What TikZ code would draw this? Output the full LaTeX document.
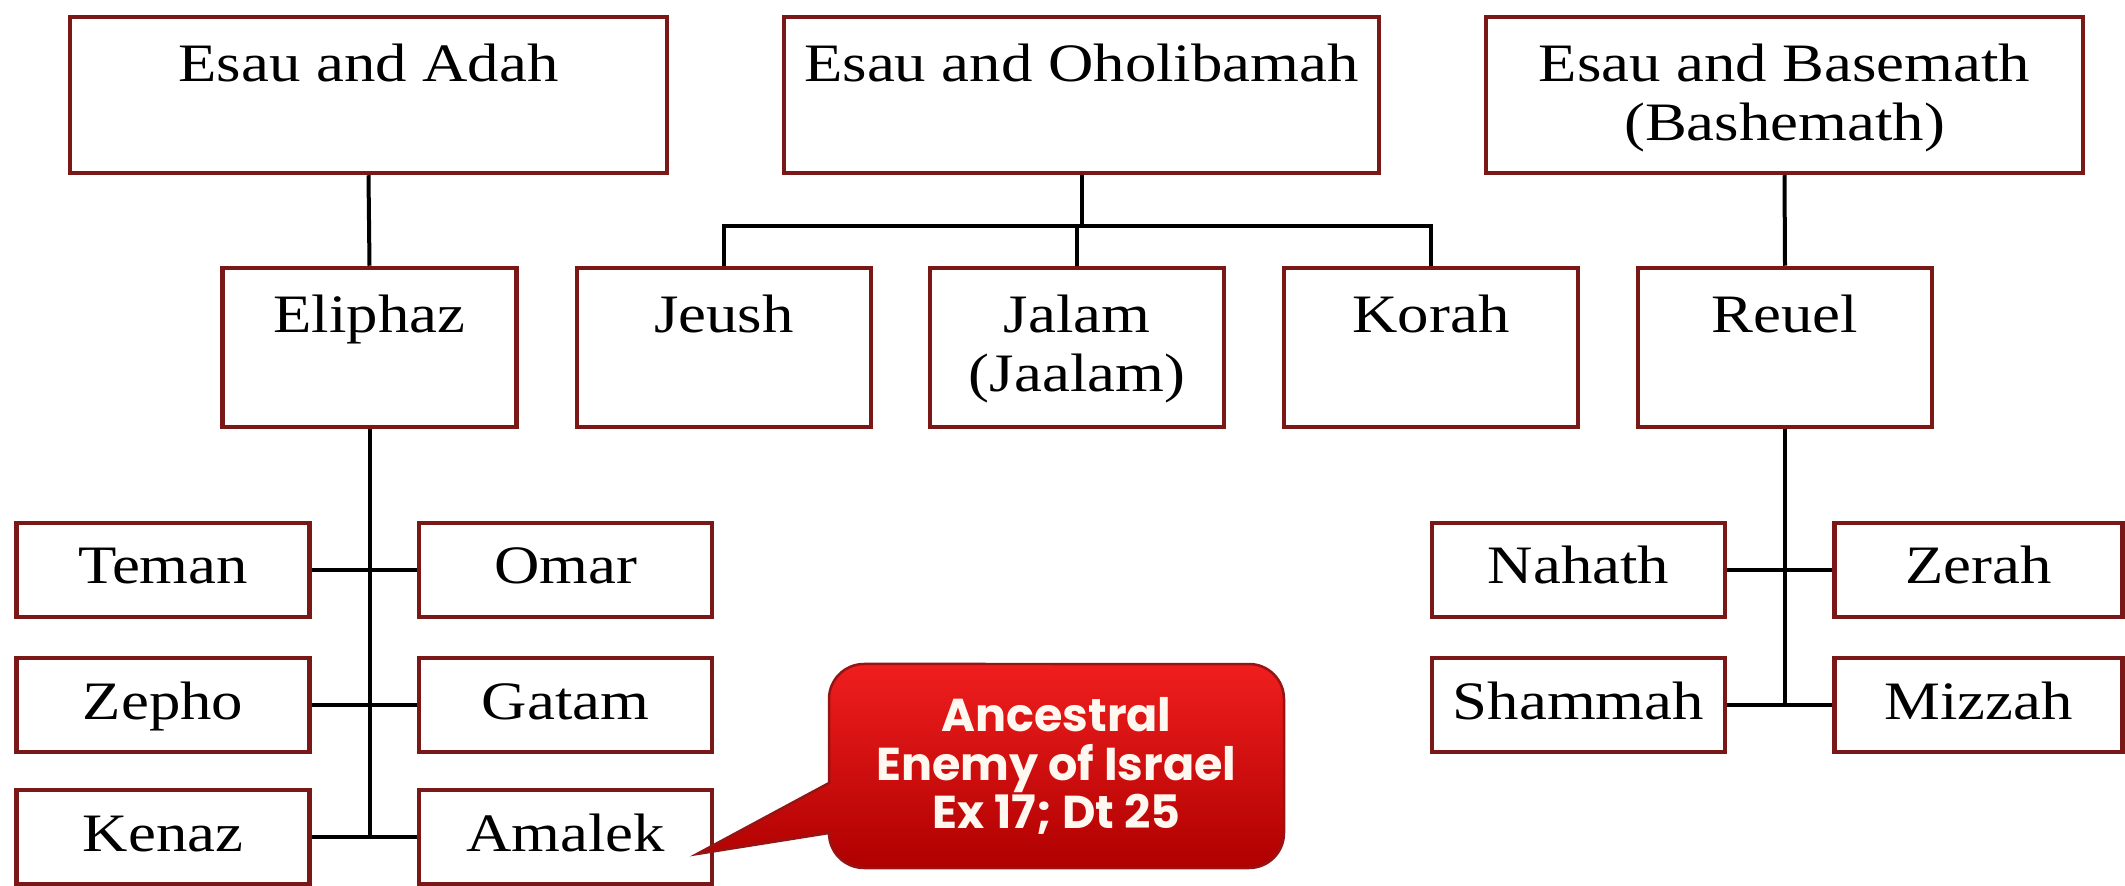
\documentclass[tikz,border=0pt]{standalone}
\usepackage{fontspec}
\setmainfont{Liberation Serif}[FakeStretch=1.16]
\newfontfamily\callfont{Poppins}
\definecolor{boxred}{RGB}{122,24,24}
\definecolor{calltop}{RGB}{240,30,30}
\definecolor{callmid}{RGB}{212,0,0}
\definecolor{callbot}{RGB}{175,0,0}
\definecolor{callrim}{RGB}{150,20,20}
\begin{document}
\begin{tikzpicture}[x=0.1mm,y=0.1mm,
  serif/.style={font=\fontsize{15.4pt}{16.8pt}\selectfont},
  bigbox/.style={draw=boxred,line width=0.45mm,fill=white,inner sep=0pt,minimum width=59.7mm,minimum height=15.6mm},
  midbox/.style={draw=boxred,line width=0.45mm,fill=white,inner sep=0pt,minimum width=29.4mm,minimum height=15.9mm},
  smallbox/.style={draw=boxred,line width=0.45mm,fill=white,inner sep=0pt,minimum width=29.3mm,minimum height=9.4mm,
     serif,text height=3.7mm,text depth=0.9mm},
  lbl/.style={serif,inner sep=0pt,align=center,anchor=north},
  conn/.style={draw=black,line width=0.4mm},
  calltext/.style={font=\callfont\bfseries\fontsize{13.1pt}{13.9pt}\selectfont,text={rgb,255:red,255;green,248;blue,240},align=center,inner sep=0pt}
]
\useasboundingbox (0,0) rectangle (2125,885);
% top row
\node[bigbox] (adah) at (368.5,790) {};
\node[bigbox,minimum width=59.5mm] (ohol) at (1081.5,790) {};
\node[bigbox] (base) at (1784.5,790) {};
\node[lbl] (adahT) at ([yshift=-2.8mm]adah.north) {Esau and Adah};
\node[lbl] (oholT) at ([yshift=-2.8mm]ohol.north) {Esau and Oholibamah};
\node[lbl] (baseT) at ([yshift=-2.8mm]base.north) {Esau and Basemath\\(Bashemath)};
% middle row
\node[midbox] (eliphaz) at (369.5,537.5) {};
\node[midbox] (jeush) at (724,537.5) {};
\node[midbox] (jalam) at (1077,537.5) {};
\node[midbox] (korah) at (1431,537.5) {};
\node[midbox] (reuel) at (1785,537.5) {};
\node[lbl] (eliphazT) at ([yshift=-2.8mm]eliphaz.north) {Eliphaz};
\node[lbl] (jeushT) at ([yshift=-2.8mm]jeush.north) {Jeush};
\node[lbl] (jalamT) at ([yshift=-2.8mm]jalam.north) {Jalam\\(Jaalam)};
\node[lbl] (korahT) at ([yshift=-2.8mm]korah.north) {Korah};
\node[lbl] (reuelT) at ([yshift=-2.8mm]reuel.north) {Reuel};
% sons of Eliphaz
\node[smallbox] (teman) at (163,315) {Teman};
\node[smallbox] (omar) at (565.5,315) {Omar};
\node[smallbox] (zepho) at (163,180) {Zepho};
\node[smallbox] (gatam) at (565.5,180) {Gatam};
\node[smallbox] (kenaz) at (163,48) {Kenaz};
\node[smallbox] (amalek) at (565.5,48) {Amalek};
% sons of Reuel
\node[smallbox] (nahath) at (1578.5,315) {Nahath};
\node[smallbox,minimum width=28.8mm] (zerah) at (1978.5,315) {Zerah};
\node[smallbox] (shammah) at (1578.5,180) {Shammah};
\node[smallbox,minimum width=28.8mm] (mizzah) at (1978.5,180) {Mizzah};
% connectors
\coordinate (bus) at (1079,659);
\draw[conn] (adah.south) -- (eliphaz.north);
\draw[conn] (base.south) -- (reuel.north);
\draw[conn] (ohol.south) -- (ohol.south |- bus);
\draw[conn] (jeush.north) -- (jeush.north |- bus) -- (korah.north |- bus) -- (korah.north);
\draw[conn] (jalam.north) -- (jalam.north |- bus);
\draw[conn] (eliphaz.south) -- (eliphaz.south |- kenaz.east);
\draw[conn] (teman.east) -- (omar.west);
\draw[conn] (zepho.east) -- (gatam.west);
\draw[conn] (kenaz.east) -- (amalek.west);
\draw[conn] (reuel.south) -- (reuel.south |- shammah.east);
\draw[conn] (nahath.east) -- (zerah.west);
\draw[conn] (shammah.east) -- (mizzah.west);
% callout
\shade[top color=calltop,middle color=callmid,bottom color=callbot,draw=callrim,line width=0.25mm]
  (829,102) -- (697,31) -- (829,52)
  arc[start angle=180,end angle=270,radius=3.5mm] -- (1249,17)
  arc[start angle=270,end angle=360,radius=3.5mm] -- (1284,186)
  arc[start angle=0,end angle=90,radius=3.5mm] -- (864,221)
  arc[start angle=90,end angle=180,radius=3.5mm] -- cycle;
\node[calltext] (callT) at (1056.5,119) {Ancestral\\Enemy of Israel\\Ex 17; Dt 25};
\end{tikzpicture}
\end{document}
